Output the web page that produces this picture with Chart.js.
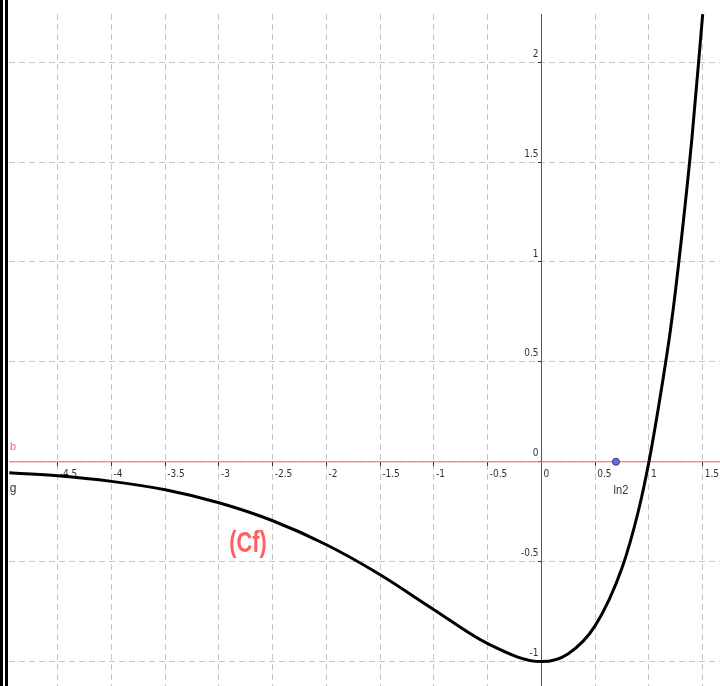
<!DOCTYPE html>
<html>
<head>
<meta charset="utf-8">
<script src="https://cdn.jsdelivr.net/npm/chart.js@4.4.1/dist/chart.umd.min.js"></script>
<style>
  html, body { margin: 0; padding: 0; background: #fff; }
  #wrap { width: 712px; height: 686px; border-left: 8px double #000; }
  canvas { display: block; }
</style>
</head>
<body>
<div id="wrap"><canvas id="graph" width="712" height="686"></canvas></div>
<script>
// courbe Cf, valeurs
const curveX = [-4.95, -4.5, -4, -3.5, -3, -2.5, -2, -1.5, -1, -0.5, 0, 0.25, 0.5, 0.75, 0.9, 1, 1.1, 1.2, 1.25, 1.4, 1.5];
const curveY = [-0.055, -0.07, -0.098, -0.14, -0.205, -0.295, -0.415, -0.565, -0.74, -0.91, -1.0, -0.96, -0.82, -0.53, -0.25, 0, 0.31, 0.66, 0.87, 1.62, 2.24];

// droite b (y = 0) et point ln2
const lineBX = [-4.95, 1.66];
const lineBY = [0, 0];
const pointLn2 = [0.693];
const pointLn2Y = [0];

// ticks des axes
const xTicks = [-4.5, -4, -3.5, -3, -2.5, -2, -1.5, -1, -0.5, 0, 0.5, 1, 1.5];
const yTicks = [-1, -0.5, 0, 0.5, 1, 1.5, 2];

const xMin = -4.953, xMax = 1.661;
const yMin = -1.122, yMax = 2.241;

const tickFont = { family: "'Liberation Sans Narrow', 'DejaVu Sans Condensed', 'Liberation Sans', sans-serif", size: 10 };

function toPoints(xs, ys) {
    return xs.map((x, i) => ({ x: x, y: ys[i] }));
}

// pas de marge réservée par les axes centrés
function noPadding(scale) {
    scale.paddingLeft = 0;
    scale.paddingRight = 0;
    scale.paddingTop = 0;
    scale.paddingBottom = 0;
}

// axe des ordonnées + étiquettes b, g, (Cf), ln2
const extraDraw = {
    id: 'extraDraw',
    beforeDatasetsDraw(chart) {
        const ctx = chart.ctx;
        const a = chart.chartArea;
        const x0 = chart.scales.x.getPixelForValue(0);
        ctx.save();
        ctx.strokeStyle = '#555';
        ctx.lineWidth = 1;
        ctx.beginPath();
        ctx.moveTo(Math.round(x0) + 0.5, a.top);
        ctx.lineTo(Math.round(x0) + 0.5, a.bottom);
        ctx.stroke();
        ctx.restore();
    },
    afterDatasetsDraw(chart) {
        const ctx = chart.ctx;
        const sx = chart.scales.x, sy = chart.scales.y;
        const a = chart.chartArea;
        ctx.save();
        ctx.textAlign = 'center';
        ctx.textBaseline = 'middle';

        ctx.fillStyle = '#ff6666';
        ctx.font = "11px 'Liberation Sans', sans-serif";
        ctx.fillText('b', a.left + 4, sy.getPixelForValue(0) - 15);

        ctx.fillStyle = '#333';
        ctx.font = "12px 'Liberation Sans', sans-serif";
        ctx.fillText('g', a.left + 4, sy.getPixelForValue(0) + 27);

        ctx.save();
        ctx.translate(sx.getPixelForValue(0.74), sy.getPixelForValue(-0.142));
        ctx.scale(0.85, 1);
        ctx.font = "13px 'Liberation Sans', sans-serif";
        ctx.fillText('ln2', 0, 0);
        ctx.restore();

        ctx.save();
        ctx.translate(sx.getPixelForValue(-2.73), sy.getPixelForValue(-0.41));
        ctx.scale(0.75, 1);
        ctx.fillStyle = '#ff5f5f';
        ctx.font = "bold 29px 'Liberation Sans', sans-serif";
        ctx.fillText('(Cf)', 0, 0);
        ctx.restore();

        ctx.restore();
    }
};

const ctx = document.getElementById('graph').getContext('2d');
const graph = new Chart(ctx, {
    type: 'scatter',
    data: {
        datasets: [
            {
                label: 'ln2',
                data: toPoints(pointLn2, pointLn2Y),
                pointRadius: 3.5,
                backgroundColor: '#6a6ae0',
                borderColor: '#35358a',
                borderWidth: 1
            },
            {
                label: 'Cf',
                data: toPoints(curveX, curveY),
                showLine: true,
                pointRadius: 0,
                borderColor: '#000',
                borderWidth: 3,
                cubicInterpolationMode: 'monotone'
            },
            {
                label: 'b',
                data: toPoints(lineBX, lineBY),
                showLine: true,
                pointRadius: 0,
                borderColor: '#ff6060',
                borderWidth: 1
            }
        ]
    },
    options: {
        responsive: false,
        animation: false,
        layout: { autoPadding: false, padding: { left: 1, top: 14, right: 0, bottom: 0 } },
        plugins: {
            legend: { display: false },
            tooltip: { enabled: false }
        },
        scales: {
            x: {
                type: 'linear',
                position: { y: 0 },
                min: xMin,
                max: xMax,
                afterBuildTicks: scale => { scale.ticks = xTicks.map(v => ({ value: v })); },
                afterFit: noPadding,
                grid: {
                    color: '#c6c6c6',
                    drawTicks: true,
                    tickLength: 4,
                    tickColor: '#333'
                },
                border: { display: false, dash: [6, 4] },
                ticks: {
                    align: 'start',
                    labelOffset: 2,
                    padding: 3,
                    color: '#333',
                    font: tickFont,
                    callback: v => String(v)
                }
            },
            y: {
                type: 'linear',
                position: { x: 0 },
                min: yMin,
                max: yMax,
                afterBuildTicks: scale => { scale.ticks = yTicks.map(v => ({ value: v })); },
                afterFit: noPadding,
                grid: {
                    color: '#c6c6c6',
                    drawTicks: true,
                    tickLength: 3,
                    tickColor: '#333'
                },
                border: { display: false, dash: [6, 4] },
                ticks: {
                    labelOffset: -8,
                    color: '#333',
                    font: tickFont,
                    callback: v => String(v) + ' '
                }
            }
        }
    },
    plugins: [extraDraw]
});
</script>
</body>
</html>
